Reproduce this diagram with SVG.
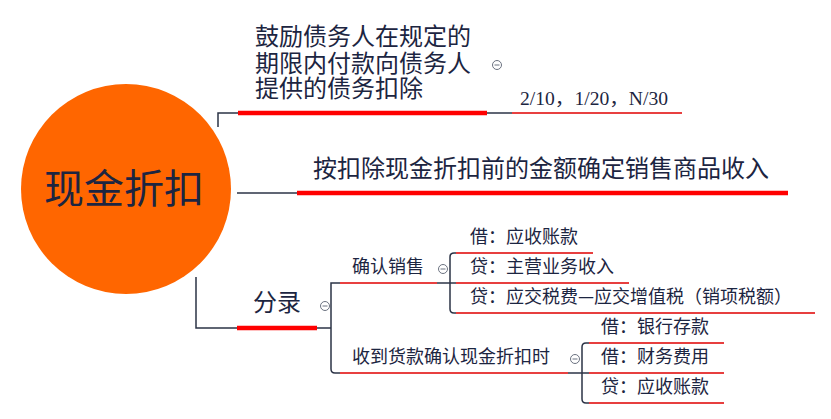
<svg xmlns="http://www.w3.org/2000/svg" width="831" height="419" viewBox="0 0 831 419">
<style>
.ln{fill:none;stroke:#2b3346;stroke-width:1.5}
.rt{fill:none;stroke:#ff0000;stroke-width:4.5}
.rn{fill:none;stroke:#e00000;stroke-width:1.5}
.t{font-family:"Noto Sans CJK SC","Liberation Sans",sans-serif;fill:#1c2541}
.b{font-size:24px}
.s{font-size:18px}
.cl{fill:#fff;stroke:#6b7280;stroke-width:1}
.cm{stroke:#6b7280;stroke-width:1}
</style>
<rect width="831" height="419" fill="#fff"/>
<g id="connectors">
<path class="ln" d="M218,127 V113 H238"/>
<path class="rt" d="M238,113 H487"/>
<path class="ln" d="M487,113 H512"/>
<path class="rn" d="M512,113 H682"/>
<path class="ln" d="M237,193 H297"/>
<path class="rt" d="M297,193 H788"/>
<path class="ln" d="M196,277 V328 H237"/>
<path class="rt" d="M237,328 H317"/>
<path class="ln" d="M317,328 H331"/>
<path class="ln" d="M340,283 H331 V369 Q331,373 335,373 H340"/>
<path class="rn" d="M340,283 H437"/>
<path class="ln" d="M437,283 H456"/>
<path class="rn" d="M340,373 H568"/>
<path class="ln" d="M568,373 H589"/>
<path class="ln" d="M456,253 H454 Q450,253 450,257 V309 Q450,313 454,313 H456"/>
<path class="rn" d="M456,253 H593 M456,283 H629 M456,313 H815"/>
<path class="ln" d="M589,343 H586 Q582,343 582,347 V399 Q582,403 586,403 H589"/>
<path class="rn" d="M589,343 H724 M589,373 H724 M589,403 H724"/>
</g>
<g id="root">
<circle cx="126" cy="189" r="105" fill="#ff6600"/>
<text class="t" x="124" y="203" font-size="40" text-anchor="middle">现金折扣</text>
</g>
<g id="n-encourage">
<text class="t b"><tspan x="255" y="45">鼓励债务人在规定的</tspan><tspan x="255" y="72">期限内付款向债务人</tspan><tspan x="255" y="97">提供的债务扣除</tspan></text>
<circle class="cl" cx="497" cy="65" r="4.5"/><path class="cm" d="M494.5,65 H499.5"/>
</g>
<g id="n-terms">
<text x="520" y="105" font-family="Liberation Serif,Noto Sans CJK SC,serif" font-size="18" fill="#1c2541" textLength="148" lengthAdjust="spacingAndGlyphs">2/10，1/20，N/30</text>
</g>
<g id="n-gross">
<text class="t b" x="313" y="177">按扣除现金折扣前的金额确定销售商品收入</text>
</g>
<g id="n-entry">
<text class="t b" x="253" y="311">分录</text>
<circle class="cl" cx="325" cy="306" r="4.5"/><path class="cm" d="M322.5,306 H327.5"/>
</g>
<g id="n-sale">
<text class="t s" x="352" y="273">确认销售</text>
<circle class="cl" cx="443" cy="269" r="4.5"/><path class="cm" d="M440.5,269 H445.5"/>
</g>
<g id="n-sale-1"><text class="t s" x="470" y="243">借：应收账款</text></g>
<g id="n-sale-2"><text class="t s" x="470" y="273">贷：主营业务收入</text></g>
<g id="n-sale-3"><text class="t s" x="470" y="303">贷：应交税费—应交增值税（销项税额）</text></g>
<g id="n-receive">
<text class="t s" x="352" y="363">收到货款确认现金折扣时</text>
<circle class="cl" cx="575" cy="359" r="4.5"/><path class="cm" d="M572.5,359 H577.5"/>
</g>
<g id="n-receive-1"><text class="t s" x="601" y="333">借：银行存款</text></g>
<g id="n-receive-2"><text class="t s" x="601" y="363">借：财务费用</text></g>
<g id="n-receive-3"><text class="t s" x="601" y="393">贷：应收账款</text></g>
</svg>
